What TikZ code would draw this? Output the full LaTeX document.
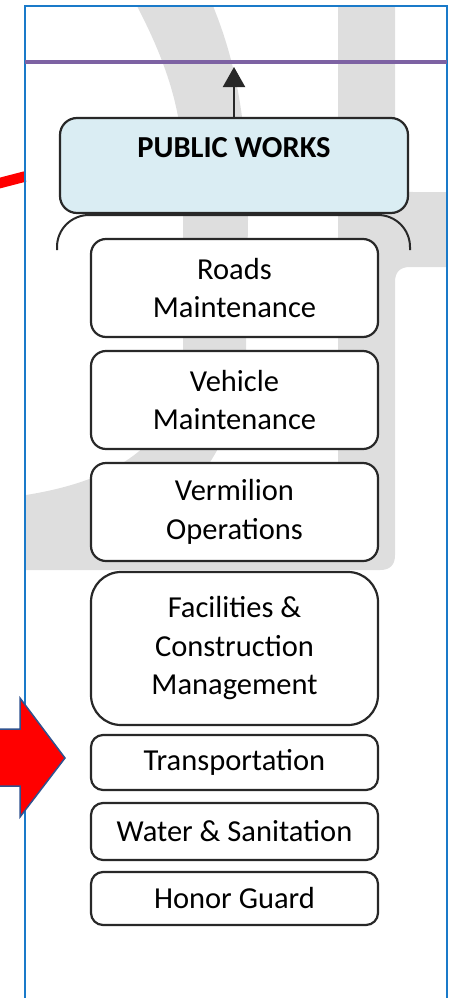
\documentclass[tikz,border=0pt]{standalone}
\usepackage{fontspec}
\setmainfont{Carlito}
\usetikzlibrary{arrows.meta,positioning}
\definecolor{wmgray}{RGB}{222,222,222}
\definecolor{frameblue}{RGB}{26,122,201}
\definecolor{linepurple}{RGB}{125,98,163}
\definecolor{pwblue}{RGB}{218,237,243}
\definecolor{arrowedge}{RGB}{47,82,143}
\definecolor{boxline}{RGB}{40,40,40}
\tikzset{
  unitbox/.style={draw=boxline,line width=2.2pt,fill=white,align=center,minimum width=287pt,inner sep=0pt,
    text=black,font=\fontsize{30.5}{38.5}\selectfont},
  pwbox/.style={unitbox,fill=pwblue,minimum width=348pt,minimum height=95pt,rounded corners=17pt}
}
\begin{document}
\begin{tikzpicture}[x=1pt,y=-1pt]
\useasboundingbox (0,0) rectangle (457,998);
\fill[wmgray](137,6)--(213,6)..controls(235,60)and(248,120)..(248,220)--(246,350)..controls(244,400)and(225,440)..(205,470)
  --(205,480)--(338,480)--(338,6)--(395,6)--(395,175)..controls(395,188)and(400,192)..(413,192)--(447,192)--(447,267)
  --(410,267)..controls(400,267)and(395,272)..(395,282)--(395,555)..controls(395,565)and(390,570)..(380,570)--(26,570)
  --(26,495)..controls(120,480)and(183,440)..(183,350)--(183,170)..controls(183,110)and(165,60)..(137,6)--cycle;
\draw[red,line width=10.5pt](-5,184.3)--(25,176.5);
\draw[frameblue,line width=2.8pt](25,1005)--(25,6)--(447,6)--(447,1005);
\coordinate (pl) at (25,62);
\coordinate (pr) at (447,62);
\coordinate (tip) at (234,67);
\draw[linepurple,line width=4.5pt](pl)--(pr);
\draw[boxline,line width=2pt,rounded corners=32pt](57,250)--(57,215)--(410,215)--(410,250);
\node[pwbox] (pw) at (234,165.5) {};
\node[font=\fontsize{30.5}{38.5}\selectfont\bfseries,text=black] (pwtext) at ([yshift=-31pt]pw.north) {PUBLIC WORKS};
\draw[boxline,line width=2pt,-{Triangle[width=22pt,length=20pt]}](pw)--(tip);
\foreach \n/\t/\b/\r/\txt in {roads/239/337/15/{Roads\\Maintenance},vehicle/351/449/15/{Vehicle\\Maintenance},
  vermilion/463/561/15/{Vermilion\\Operations},facilities/572/725/30/{Facilities \&\\Construction\\Management},
  transport/735/790/12/Transportation,water/803/860/12/{Water \& Sanitation},honor/872/925/12/{Honor Guard}}
  \node[unitbox,minimum height={\b-\t},rounded corners={\r pt}] (\n) at (234.5,{(\t+\b)/2}) {\txt};
\draw[fill=red,draw=arrowedge,line width=1.5pt,line join=miter](-5,729)--(20,729)--(20,698)--(65,758)--(20,817)--(20,786)--(-5,786)--cycle;
\end{tikzpicture}
\end{document}
